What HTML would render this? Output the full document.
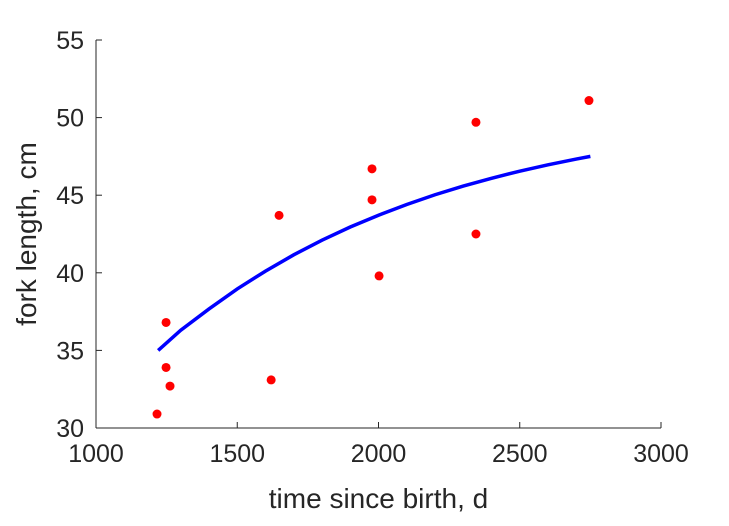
<!DOCTYPE html>
<html><head><meta charset="utf-8"><style>
html,body{margin:0;padding:0;background:#fff;}
svg text{font-family:"Liberation Sans",sans-serif;fill:#262626;}
</style></head><body>
<svg id="chart" width="729" height="521" xmlns="http://www.w3.org/2000/svg"></svg>
<script>
const xTicks=[1000,1500,2000,2500,3000];
const yTicks=[30,35,40,45,50,55];
const obsTime=[1216,1248,1248,1262,1620,1648,1977,1977,2002,2345,2345,2745];
const obsLength=[30.9,36.8,33.9,32.7,33.1,43.7,46.7,44.7,39.8,49.7,42.5,51.1];
const fitTime=[1220,1300,1400,1500,1600,1700,1800,1900,2000,2100,2200,2300,2400,2500,2600,2700,2750];
const fitLength=[35.0,36.3,37.67,38.96,40.11,41.16,42.10,42.95,43.71,44.40,45.03,45.59,46.09,46.55,46.96,47.33,47.50];
const NS="http://www.w3.org/2000/svg";
const svg=document.getElementById('chart');
const L=96,R=661,T=40,B=428;
const sx=v=>L+(v-1000)/2000*(R-L);
const sy=v=>B-(v-30)/25*(B-T);
function mk(tag,attrs,parent){const e=document.createElementNS(NS,tag);for(const k in attrs)e.setAttribute(k,attrs[k]);(parent||svg).appendChild(e);return e;}
const ax=mk('g',{});


const xl=mk('line',{x1:L,y1:B,x2:R,y2:B,stroke:'#262626','stroke-width':1},ax);


const yl=mk('line',{x1:L,y1:B,x2:L,y2:T,stroke:'#262626','stroke-width':1},ax);


xTicks.forEach(v=>{
  mk('line',{x1:sx(v),y1:B,x2:sx(v),y2:B-6,stroke:'#262626'},ax);
  const t=mk('text',{x:sx(v),y:B+34,'text-anchor':'middle','font-size':25},ax);
  t.textContent=v;
  
  
});
yTicks.forEach(v=>{
  mk('line',{x1:L,y1:sy(v),x2:L+6,y2:sy(v),stroke:'#262626'},ax);
  const t=mk('text',{x:L-12,y:sy(v)+9,'text-anchor':'end','font-size':25},ax);
  t.textContent=v;
  
  
});
const xt=mk('text',{x:(L+R)/2,y:508,'text-anchor':'middle','font-size':28});
xt.textContent='time since birth, d';


const yt=mk('text',{x:0,y:0,'text-anchor':'middle','font-size':28,transform:`translate(36,${(T+B)/2}) rotate(-90)`});
yt.textContent='fork length, cm';


const pts=fitTime.map((t,i)=>sx(t)+','+sy(fitLength[i])).join(' ');
const fl=mk('polyline',{points:pts,fill:'none',stroke:'#0000ff','stroke-width':3.5});


obsTime.forEach((t,i)=>{
  const c=mk('circle',{cx:sx(t),cy:sy(obsLength[i]),r:4.5,fill:'#ff0000'});
  
  
});
</script>
</body></html>
